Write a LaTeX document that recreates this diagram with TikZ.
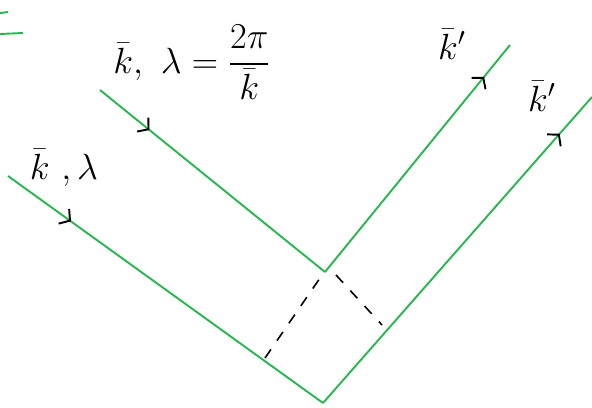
\documentclass[tikz,border=0pt]{standalone}
\usepackage{amsmath}
\usepackage{tikz}
\usetikzlibrary{arrows.meta, decorations.markings}
\definecolor{raygreen}{RGB}{44,182,82}

\begin{document}
\begin{tikzpicture}[x=0.02cm, y=-0.02cm,
        ray/.style={draw=raygreen, line width=1.1pt},
        tickat/.style={postaction={decorate, decoration={markings,
            mark=at position #1 with {\arrow[black, line width=1.1pt]{Straight Barb[length=1.5mm, width=3.6mm]}}}}},
        front/.style={black, line width=0.9pt, dash pattern=on 6pt off 6pt},
        lbl/.style={font=\fontsize{22}{26}\selectfont, inner sep=0pt}]
        \useasboundingbox[fill=white] (0,0) rectangle (592,407);
        % end points of the rays
        \coordinate (a0) at (100,90);
        \coordinate (a1) at (325,272);
        \coordinate (a2) at (510,45);
        \coordinate (b0) at (8,176);
        \coordinate (b1) at (323,403);
        \coordinate (b2) at (592,97);
        % wave fronts
        \coordinate (d0) at (265,358);
        \coordinate (d1) at (320,278);
        \coordinate (e0) at (336,275);
        \coordinate (e1) at (382,325);
        % labels
        \node[lbl] (kin) at (192,62) {$\bar{k},\ \lambda = \dfrac{2\pi}{\bar{k}}$};
        \node[lbl] (kin2) at (64,168) {$\bar{k}\ ,\lambda$};
        \node[lbl] (kout) at (452,44) {$\bar{k}'$};
        \node[lbl] (kout2) at (542,96) {$\bar{k}'$};
        % rays
        \draw[ray, tickat=0.22] (a0) -- (a1);
        \draw[ray, tickat=0.86] (a1) -- (a2);
        \draw[ray, tickat=0.2] (b0) -- (b1);
        \draw[ray, tickat=0.88] (b1) -- (b2);
        \draw[front] (d0) -- (d1);
        \draw[front] (e0) -- (e1);
        % cut-off mark at the corner
        \draw[ray] (0,13) -- (8,12);
        \draw[ray] (0,34) -- (23,33);
\end{tikzpicture}
\end{document}
